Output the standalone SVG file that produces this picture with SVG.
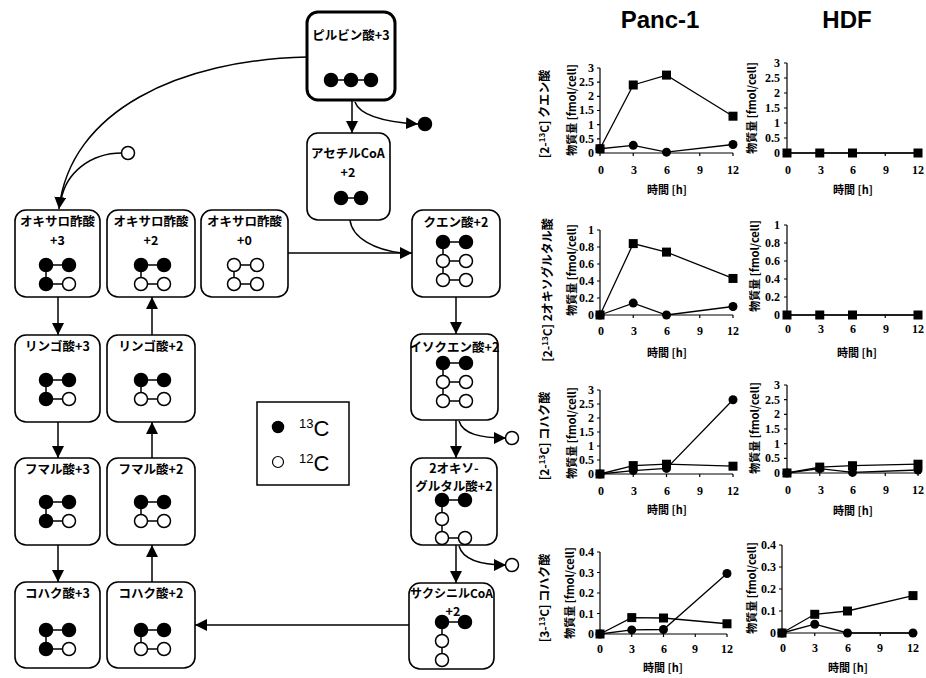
<svg xmlns="http://www.w3.org/2000/svg" xmlns:xlink="http://www.w3.org/1999/xlink" width="926" height="678" viewBox="0 0 926 678">
<style>
.box{fill:#fff;stroke:#000;stroke-width:1.6}
.lbl{font-family:"Noto Sans CJK JP","Noto Sans",sans-serif;font-size:12.5px;font-weight:bold;text-anchor:middle}
.b{fill:#000;stroke:#000;stroke-width:1.5}
.w{fill:#fff;stroke:#000;stroke-width:1.5}
.bond{stroke:#000;stroke-width:1.5;fill:none}
.conn{fill:none;stroke:#000;stroke-width:1.5}
.axis{fill:none;stroke:#000;stroke-width:1.2}
.data{fill:none;stroke:#000;stroke-width:1.3}
.tk{font-family:"Liberation Serif",serif;font-weight:bold;font-size:12px}
.yt{text-anchor:end}
.xt{text-anchor:middle}
.ax{font-family:"Noto Sans CJK JP",sans-serif;font-weight:bold;font-size:11px;text-anchor:middle}
.mt{font-family:"Noto Sans CJK JP",sans-serif;font-weight:bold;font-size:12px;text-anchor:middle}
.hd{font-family:"Liberation Sans",Arial,sans-serif;font-weight:bold;font-size:24px;text-anchor:middle}
.leg{font-family:"Liberation Sans",Arial,sans-serif;font-size:22px}
</style>
<defs>
<marker id="ah" markerUnits="userSpaceOnUse" markerWidth="12" markerHeight="12" refX="12" refY="6" orient="auto">
<path d="M0,0 L12,6 L0,12 z" fill="#000"/>
</marker>
<rect id="sq" x="-4.5" y="-4.5" width="9" height="9" fill="#000"/>
<circle id="ci" r="4.5" fill="#000"/>
<g id="p43"><path class="bond" d="M0,0H23M0,0V19H23"/><circle class="b" cx="0" cy="0" r="6.5"/><circle class="b" cx="23" cy="0" r="6.5"/><circle class="b" cx="0" cy="19" r="6.5"/><circle class="w" cx="23" cy="19" r="6.5"/></g>
<g id="p42"><path class="bond" d="M0,0H23M0,0V19H23"/><circle class="b" cx="0" cy="0" r="6.5"/><circle class="b" cx="23" cy="0" r="6.5"/><circle class="w" cx="0" cy="19" r="6.5"/><circle class="w" cx="23" cy="19" r="6.5"/></g>
<g id="p40"><path class="bond" d="M0,0H23M0,0V19H23"/><circle class="w" cx="0" cy="0" r="6.5"/><circle class="w" cx="23" cy="0" r="6.5"/><circle class="w" cx="0" cy="19" r="6.5"/><circle class="w" cx="23" cy="19" r="6.5"/></g>
<g id="p62"><path class="bond" d="M0,0H23M0,0V38M0,19H23M0,38H23"/><circle class="b" cx="0" cy="0" r="6.5"/><circle class="b" cx="23" cy="0" r="6.5"/><circle class="w" cx="0" cy="19" r="6.5"/><circle class="w" cx="23" cy="19" r="6.5"/><circle class="w" cx="0" cy="38" r="6.5"/><circle class="w" cx="23" cy="38" r="6.5"/></g>
<g id="p52"><path class="bond" d="M0,0H23M0,0V38H23"/><circle class="b" cx="0" cy="0" r="6.5"/><circle class="b" cx="23" cy="0" r="6.5"/><circle class="w" cx="0" cy="19" r="6.5"/><circle class="w" cx="0" cy="38" r="6.5"/><circle class="w" cx="23" cy="38" r="6.5"/></g>
<g id="ps"><path class="bond" d="M0,0H23M0,0V38"/><circle class="b" cx="0" cy="0" r="6.5"/><circle class="b" cx="23" cy="0" r="6.5"/><circle class="w" cx="0" cy="19" r="6.5"/><circle class="w" cx="0" cy="38" r="6.5"/></g>
</defs>
<rect width="926" height="678" fill="#fff"/>

<!-- connectors -->
<g id="connectors">
<path class="conn" d="M352,100 V133" marker-end="url(#ah)"/>
<path class="conn" d="M355,102 C360,116 385,122 418,124" marker-end="url(#ah)"/>
<path class="conn" d="M307,57 C180,60 70,110 59,209" marker-end="url(#ah)"/>
<path class="conn" d="M122,153 C90,153 66,173 61,200"/>
<path class="conn" d="M288,253 H412" marker-end="url(#ah)"/>
<path class="conn" d="M350,220 C352,238 375,250 402,253"/>
<path class="conn" d="M456,297 V334" marker-end="url(#ah)"/>
<path class="conn" d="M456,420 V458" marker-end="url(#ah)"/>
<path class="conn" d="M459,421 C463,434 480,438 506,438" marker-end="url(#ah)"/>
<path class="conn" d="M456,545 V583" marker-end="url(#ah)"/>
<path class="conn" d="M459,546 C463,560 480,565 506,565" marker-end="url(#ah)"/>
<path class="conn" d="M409,625 H195" marker-end="url(#ah)"/>
<path class="conn" d="M58,297 V335" marker-end="url(#ah)"/>
<path class="conn" d="M58,422 V458" marker-end="url(#ah)"/>
<path class="conn" d="M58,545 V582" marker-end="url(#ah)"/>
<path class="conn" d="M152,582 V545" marker-end="url(#ah)"/>
<path class="conn" d="M152,458 V422" marker-end="url(#ah)"/>
<path class="conn" d="M152,335 V297" marker-end="url(#ah)"/>
<circle cx="425" cy="124" r="6.5" class="b"/>
<circle cx="128" cy="153" r="6.5" class="w"/>
<circle cx="512" cy="438" r="6.5" class="w"/>
<circle cx="512" cy="565" r="6.5" class="w"/>
</g>

<!-- nodes -->
<g id="pyruvate"><rect class="box" x="307" y="12" width="88" height="88" rx="11" style="stroke-width:3"/><text class="lbl" x="351" y="40">ピルビン酸+3</text>
<path class="bond" d="M331,80H371"/><circle class="b" cx="331" cy="80" r="6.5"/><circle class="b" cx="351" cy="80" r="6.5"/><circle class="b" cx="371" cy="80" r="6.5"/></g>
<g id="acetylcoa"><rect class="box" x="307" y="133" width="83" height="87" rx="11"/><text class="lbl" x="348" y="158">アセチルCoA</text><text class="lbl" x="348" y="177">+2</text>
<path class="bond" d="M341,198H361"/><circle class="b" cx="341" cy="198" r="6.5"/><circle class="b" cx="361" cy="198" r="6.5"/></g>

<g id="oaa3"><rect class="box" x="15" y="210" width="85" height="87" rx="11"/><text class="lbl" x="57.5" y="226">オキサロ酢酸</text><text class="lbl" x="57.5" y="245">+3</text><use href="#p43" x="46" y="265"/></g>
<g id="oaa2"><rect class="box" x="107" y="210" width="88" height="87" rx="11"/><text class="lbl" x="151" y="226">オキサロ酢酸</text><text class="lbl" x="151" y="245">+2</text><use href="#p42" x="141" y="265"/></g>
<g id="oaa0"><rect class="box" x="201" y="210" width="87" height="87" rx="11"/><text class="lbl" x="244.5" y="226">オキサロ酢酸</text><text class="lbl" x="244.5" y="245">+0</text><use href="#p40" x="234" y="265"/></g>

<g id="malate3"><rect class="box" x="15" y="335" width="85" height="87" rx="11"/><text class="lbl" x="57.5" y="351">リンゴ酸+3</text><use href="#p43" x="46" y="380"/></g>
<g id="malate2"><rect class="box" x="107" y="335" width="88" height="87" rx="11"/><text class="lbl" x="151" y="351">リンゴ酸+2</text><use href="#p42" x="141" y="380"/></g>
<g id="fumarate3"><rect class="box" x="15" y="458" width="85" height="87" rx="11"/><text class="lbl" x="57.5" y="474">フマル酸+3</text><use href="#p43" x="46" y="502"/></g>
<g id="fumarate2"><rect class="box" x="107" y="458" width="88" height="87" rx="11"/><text class="lbl" x="151" y="474">フマル酸+2</text><use href="#p42" x="141" y="502"/></g>
<g id="succinate3"><rect class="box" x="15" y="582" width="85" height="86" rx="11"/><text class="lbl" x="57.5" y="598">コハク酸+3</text><use href="#p43" x="46" y="630"/></g>
<g id="succinate2"><rect class="box" x="107" y="582" width="88" height="86" rx="11"/><text class="lbl" x="151" y="598">コハク酸+2</text><use href="#p42" x="141" y="630"/></g>

<g id="citrate"><rect class="box" x="412" y="210" width="88" height="87" rx="11"/><text class="lbl" x="456" y="227">クエン酸+2</text><use href="#p62" x="443" y="242"/></g>
<g id="isocitrate"><rect class="box" x="411" y="334" width="87" height="86" rx="11"/><text class="lbl" x="454.5" y="352">イソクエン酸+2</text><use href="#p62" x="443" y="363"/></g>
<g id="oxoglutarate"><rect class="box" x="411" y="458" width="86" height="87" rx="11"/><text class="lbl" x="454" y="473">2オキソ-</text><text class="lbl" x="454" y="491">グルタル酸+2</text><use href="#p52" x="442" y="500"/></g>
<g id="succinylcoa"><rect class="box" x="409" y="583" width="85" height="86" rx="11"/><text class="lbl" x="451.5" y="598" style="font-size:12px">サクシニルCoA</text><text class="lbl" x="453" y="616">+2</text><use href="#ps" x="442" y="622"/></g>

<g id="legend"><rect x="257" y="402" width="92" height="83" fill="#fff" stroke="#000" stroke-width="1.5"/>
<circle cx="278" cy="427" r="5.5" class="b"/><circle cx="278" cy="462" r="5.5" class="w" style="stroke-width:1.2"/>
<text class="leg" x="299" y="436"><tspan font-size="13" dy="-8">13</tspan><tspan dy="8">C</tspan></text>
<text class="leg" x="299" y="471"><tspan font-size="13" dy="-8">12</tspan><tspan dy="8">C</tspan></text></g>

<!-- charts -->
<g id="charts">
<text class="hd" x="660" y="28">Panc-1</text>
<text class="hd" x="847" y="28">HDF</text>

<!-- chart 1 Panc -->
<path class="axis" d="M600,68V153H733M597,68H600M597,82.2H600M597,96.3H600M597,110.5H600M597,124.7H600M597,138.8H600M597,153H600M600,153v3M633.25,153v3M666.5,153v3M699.75,153v3M733,153v3"/>
<g class="tk yt"><text x="594" y="72">3</text><text x="594" y="86">2.5</text><text x="594" y="100">2</text><text x="594" y="114">1.5</text><text x="594" y="129">1</text><text x="594" y="143">0.5</text><text x="594" y="157">0</text></g>
<g class="tk xt"><text x="601" y="174">0</text><text x="634" y="174">3</text><text x="667" y="174">6</text><text x="700" y="174">9</text><text x="733" y="174">12</text></g>
<text class="ax" x="667" y="194">時間 [h]</text>
<text class="ax" transform="translate(576,110) rotate(-90)">物質量 [fmol/cell]</text>
<text class="mt" transform="translate(549,114) rotate(-90)">[2-<tspan font-size="8" dy="-4">13</tspan><tspan dy="4">C] クエン酸</tspan></text>
<path class="data" d="M600,148.75L633.25,85L666.5,75.1L733,116.2"/>
<path class="data" d="M600,148.75L633.25,145.35L666.5,152.15L733,144.5"/>
<use href="#sq" x="600" y="148.75"/><use href="#sq" x="633.25" y="85"/><use href="#sq" x="666.5" y="75.1"/><use href="#sq" x="733" y="116.2"/>
<use href="#ci" x="600" y="148.75"/><use href="#ci" x="633.25" y="145.35"/><use href="#ci" x="666.5" y="152.15"/><use href="#ci" x="733" y="144.5"/>

<!-- chart 1 HDF -->
<path class="axis" d="M787,63V153H918M784,63H787M784,78H787M784,93H787M784,108H787M784,123H787M784,138H787M784,153H787M787,153v3M819.75,153v3M852.5,153v3M885.25,153v3M918,153v3"/>
<g class="tk yt"><text x="780" y="67">3</text><text x="780" y="82">2.5</text><text x="780" y="97">2</text><text x="780" y="112">1.5</text><text x="780" y="127">1</text><text x="780" y="142">0.5</text><text x="780" y="157">0</text></g>
<g class="tk xt"><text x="788" y="174">0</text><text x="821" y="174">3</text><text x="853" y="174">6</text><text x="886" y="174">9</text><text x="918" y="174">12</text></g>
<text class="ax" x="853" y="194">時間 [h]</text>
<text class="ax" transform="translate(756,108) rotate(-90)">物質量 [fmol/cell]</text>
<path class="data" d="M787,153H918"/>
<use href="#sq" x="787" y="153"/><use href="#sq" x="819.75" y="153"/><use href="#sq" x="852.5" y="153"/><use href="#sq" x="918" y="153"/>

<!-- chart 2 Panc -->
<path class="axis" d="M600,230V315H733M597,230H600M597,247H600M597,264H600M597,281H600M597,298H600M597,315H600M600,315v3M633.25,315v3M666.5,315v3M699.75,315v3M733,315v3"/>
<g class="tk yt"><text x="594" y="234">1</text><text x="594" y="251">0.8</text><text x="594" y="268">0.6</text><text x="594" y="285">0.4</text><text x="594" y="302">0.2</text><text x="594" y="319">0</text></g>
<g class="tk xt"><text x="601" y="335">0</text><text x="634" y="335">3</text><text x="667" y="335">6</text><text x="700" y="335">9</text><text x="733" y="335">12</text></g>
<text class="ax" x="667" y="357">時間 [h]</text>
<text class="ax" transform="translate(576,270) rotate(-90)">物質量 [fmol/cell]</text>
<text class="mt" transform="translate(552,290) rotate(-90)">[2-<tspan font-size="8" dy="-4">13</tspan><tspan dy="4">C] 2オキソグルタル酸</tspan></text>
<path class="data" d="M600,315L633.25,243.6L666.5,252.1L733,278.45"/>
<path class="data" d="M600,315L633.25,303.1L666.5,315L733,306.5"/>
<use href="#sq" x="600" y="315"/><use href="#sq" x="633.25" y="243.6"/><use href="#sq" x="666.5" y="252.1"/><use href="#sq" x="733" y="278.45"/>
<use href="#ci" x="600" y="315"/><use href="#ci" x="633.25" y="303.1"/><use href="#ci" x="666.5" y="315"/><use href="#ci" x="733" y="306.5"/>

<!-- chart 2 HDF -->
<path class="axis" d="M787,225V315H918M784,225H787M784,243H787M784,261H787M784,279H787M784,297H787M784,315H787M787,315v3M819.75,315v3M852.5,315v3M885.25,315v3M918,315v3"/>
<g class="tk yt"><text x="780" y="229">1</text><text x="780" y="247">0.8</text><text x="780" y="265">0.6</text><text x="780" y="283">0.4</text><text x="780" y="301">0.2</text><text x="780" y="319">0</text></g>
<g class="tk xt"><text x="788" y="333">0</text><text x="821" y="333">3</text><text x="853" y="333">6</text><text x="886" y="333">9</text><text x="918" y="333">12</text></g>
<text class="ax" x="857" y="357">時間 [h]</text>
<text class="ax" transform="translate(759,266) rotate(-90)">物質量 [fmol/cell]</text>
<path class="data" d="M787,315H918"/>
<use href="#sq" x="787" y="315"/><use href="#sq" x="819.75" y="315"/><use href="#sq" x="852.5" y="315"/><use href="#sq" x="918" y="315"/>

<!-- chart 3 Panc -->
<path class="axis" d="M600,390V474H733M597,390H600M597,404H600M597,418H600M597,432H600M597,446H600M597,460H600M597,474H600M600,474v3M633.25,474v3M666.5,474v3M699.75,474v3M733,474v3"/>
<g class="tk yt"><text x="594" y="394">3</text><text x="594" y="408">2.5</text><text x="594" y="422">2</text><text x="594" y="436">1.5</text><text x="594" y="450">1</text><text x="594" y="464">0.5</text><text x="594" y="478">0</text></g>
<g class="tk xt"><text x="601" y="495">0</text><text x="634" y="495">3</text><text x="667" y="495">6</text><text x="700" y="495">9</text><text x="733" y="495">12</text></g>
<text class="ax" x="667" y="514">時間 [h]</text>
<text class="ax" transform="translate(576,433) rotate(-90)">物質量 [fmol/cell]</text>
<text class="mt" transform="translate(549,436) rotate(-90)">[2-<tspan font-size="8" dy="-4">13</tspan><tspan dy="4">C] コハク酸</tspan></text>
<path class="data" d="M600,474L633.25,465.6L666.5,464.2L733,466.2"/>
<path class="data" d="M600,474L633.25,470.6L666.5,468.4L733,399.8"/>
<use href="#sq" x="600" y="474"/><use href="#sq" x="633.25" y="465.6"/><use href="#sq" x="666.5" y="464.2"/><use href="#sq" x="733" y="466.2"/>
<use href="#ci" x="600" y="474"/><use href="#ci" x="633.25" y="470.6"/><use href="#ci" x="666.5" y="468.4"/><use href="#ci" x="733" y="399.8"/>

<!-- chart 3 HDF -->
<path class="axis" d="M787,385V473H918M784,385H787M784,399.7H787M784,414.3H787M784,429H787M784,443.7H787M784,458.3H787M784,473H787M787,473v3M819.75,473v3M852.5,473v3M885.25,473v3M918,473v3"/>
<g class="tk yt"><text x="780" y="389">3</text><text x="780" y="404">2.5</text><text x="780" y="418">2</text><text x="780" y="433">1.5</text><text x="780" y="448">1</text><text x="780" y="462">0.5</text><text x="780" y="477">0</text></g>
<g class="tk xt"><text x="788" y="494">0</text><text x="821" y="494">3</text><text x="853" y="494">6</text><text x="886" y="494">9</text><text x="918" y="494">12</text></g>
<text class="ax" x="853" y="515">時間 [h]</text>
<text class="ax" transform="translate(759,428) rotate(-90)">物質量 [fmol/cell]</text>
<path class="data" d="M787,473L819.75,467.1L852.5,465.7L918,464.2"/>
<path class="data" d="M787,473L819.75,468.6L852.5,472.4L918,470"/>
<use href="#sq" x="787" y="473"/><use href="#sq" x="819.75" y="467.1"/><use href="#sq" x="852.5" y="465.7"/><use href="#sq" x="918" y="464.2"/>
<use href="#ci" x="787" y="473"/><use href="#ci" x="819.75" y="468.6"/><use href="#ci" x="852.5" y="472.4"/><use href="#ci" x="918" y="470"/>

<!-- chart 4 Panc -->
<path class="axis" d="M600,552V634H727M597,552H600M597,572.5H600M597,593H600M597,613.5H600M597,634H600M600,634v3M631.75,634v3M663.5,634v3M695.25,634v3M727,634v3"/>
<g class="tk yt"><text x="594" y="556">0.4</text><text x="594" y="576.5">0.3</text><text x="594" y="597">0.2</text><text x="594" y="617.5">0.1</text><text x="594" y="638">0</text></g>
<g class="tk xt"><text x="600" y="653">0</text><text x="632" y="653">3</text><text x="664" y="653">6</text><text x="695" y="653">9</text><text x="727" y="653">12</text></g>
<text class="ax" x="663" y="672">時間 [h]</text>
<text class="ax" transform="translate(574,593) rotate(-90)">物質量 [fmol/cell]</text>
<text class="mt" transform="translate(549,598) rotate(-90)">[3-<tspan font-size="8" dy="-4">13</tspan><tspan dy="4">C] コハク酸</tspan></text>
<path class="data" d="M600,634L631.75,617.6L663.5,618L727,623.75"/>
<path class="data" d="M600,634L631.75,629.9L663.5,629.5L727,573.5"/>
<use href="#sq" x="600" y="634"/><use href="#sq" x="631.75" y="617.6"/><use href="#sq" x="663.5" y="618"/><use href="#sq" x="727" y="623.75"/>
<use href="#ci" x="600" y="634"/><use href="#ci" x="631.75" y="629.9"/><use href="#ci" x="663.5" y="629.5"/><use href="#ci" x="727" y="573.5"/>

<!-- chart 4 HDF -->
<path class="axis" d="M782,545V633H913M779,545H782M779,567H782M779,589H782M779,611H782M779,633H782M782,633v3M814.75,633v3M847.5,633v3M880.25,633v3M913,633v3"/>
<g class="tk yt"><text x="776" y="549">0.4</text><text x="776" y="571">0.3</text><text x="776" y="593">0.2</text><text x="776" y="615">0.1</text><text x="776" y="637">0</text></g>
<g class="tk xt"><text x="783" y="652">0</text><text x="815" y="652">3</text><text x="848" y="652">6</text><text x="880" y="652">9</text><text x="913" y="652">12</text></g>
<text class="ax" x="848" y="672">時間 [h]</text>
<text class="ax" transform="translate(756,588) rotate(-90)">物質量 [fmol/cell]</text>
<path class="data" d="M782,633L814.75,614.3L847.5,611L913,595.6"/>
<path class="data" d="M782,633L814.75,624.2L847.5,633L913,633"/>
<use href="#sq" x="782" y="633"/><use href="#sq" x="814.75" y="614.3"/><use href="#sq" x="847.5" y="611"/><use href="#sq" x="913" y="595.6"/>
<use href="#ci" x="782" y="633"/><use href="#ci" x="814.75" y="624.2"/><use href="#ci" x="847.5" y="633"/><use href="#ci" x="913" y="633"/>
</g>
</svg>
